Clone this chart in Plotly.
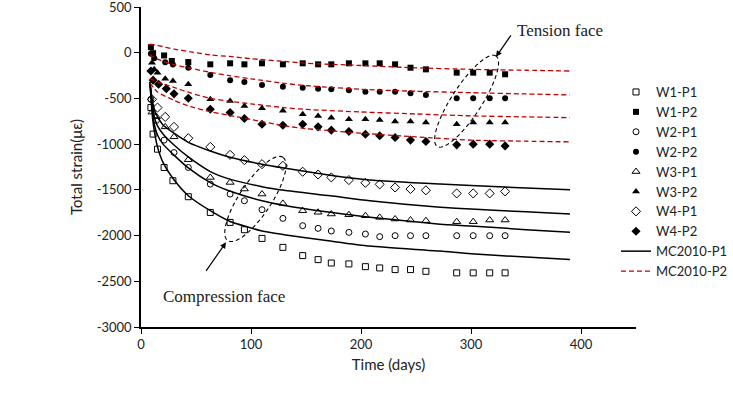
import numpy as np
import plotly.graph_objects as go

# ---------------- data ----------------
DAYS_LATE = [43, 63, 81, 94, 110, 129, 147, 161, 173, 189, 204, 217, 231, 245, 259, 287, 302, 317, 331]

w1p1_early_days = [9, 11, 15, 21, 29]
w1p1_early = [-600, -890, -1055, -1255, -1400]
w1p1_late = [-1575, -1747, -1856, -1936, -2031, -2129, -2219, -2263, -2300, -2310, -2340, -2354, -2372, -2372, -2391, -2408, -2408, -2408, -2408]

w1p2_early_days = [9, 11, 21, 28]
w1p2_early = [60, -5, -30, -90]
w1p2_late = [-102, -127, -116, -127, -116, -127, -116, -127, -127, -116, -116, -116, -127, -164, -182, -218, -218, -218, -236]

w2p1_early_days = [9, 14, 21, 30]
w2p1_early = [-510, -740, -956, -1092]
w2p1_late = [-1255, -1437, -1546, -1619, -1717, -1812, -1892, -1921, -1950, -1965, -1983, -2012, -2001, -2001, -2001, -2001, -2001, -2001, -2001]

w2p2_early_days = [9, 12, 22, 29]
w2p2_early = [-10, -60, -105, -130]
w2p2_late = [-164, -243, -302, -320, -353, -371, -382, -393, -400, -411, -426, -426, -426, -444, -462, -498, -498, -498, -498]

w3p1_early_days = [10, 14, 22, 30]
w3p1_early = [-650, -700, -811, -920]
w3p1_late = [-1170, -1364, -1419, -1491, -1546, -1648, -1728, -1745, -1764, -1772, -1783, -1801, -1819, -1830, -1837, -1848, -1848, -1830, -1830]

w3p2_early_days = [10, 12, 15, 22, 29]
w3p2_early = [-109, -180, -218, -285, -309]
w3p2_late = [-345, -510, -527, -582, -607, -636, -673, -691, -710, -727, -727, -735, -753, -753, -764, -782, -764, -764, -764]

w4p1_early_days = [10, 15, 22, 30]
w4p1_early = [-510, -600, -702, -811]
w4p1_late = [-935, -1030, -1117, -1175, -1219, -1237, -1302, -1332, -1364, -1393, -1423, -1440, -1474, -1491, -1505, -1539, -1539, -1539, -1517]

w4p2_early_days = [9, 11, 16, 23, 30]
w4p2_early = [-200, -300, -345, -393, -450]
w4p2_late = [-498, -618, -655, -720, -782, -793, -782, -811, -847, -862, -891, -909, -928, -956, -971, -1008, -1000, -1000, -1019]

# MC2010 model, compression face (P1)
MODEL_P1_DAYS = [8, 9, 10, 12, 15, 20, 30, 43, 63, 80, 110, 130, 172, 208, 272, 300, 350, 390]
mc_p1_w4 = [-320, -400, -500, -620, -700, -790, -880, -980, -1075, -1140, -1220, -1262, -1340, -1393, -1437, -1452, -1480, -1500]
mc_p1_w3 = [-320, -420, -550, -700, -800, -890, -1010, -1140, -1300, -1380, -1465, -1505, -1565, -1620, -1690, -1710, -1740, -1764]
mc_p1_w2 = [-320, -450, -600, -780, -900, -1000, -1120, -1260, -1420, -1510, -1620, -1670, -1745, -1800, -1875, -1895, -1935, -1965]
mc_p1_w1 = [-320, -480, -650, -850, -1030, -1200, -1390, -1564, -1728, -1840, -1950, -1990, -2060, -2115, -2170, -2200, -2235, -2263]

# MC2010 model, tension face (P2)
MODEL_P2_DAYS = [8, 15, 30, 45, 63, 80, 100, 130, 150, 200, 250, 300, 350, 390]
mc_p2_w1 = [95, 80, 40, 10, -25, -40, -65, -95, -115, -140, -165, -182, -192, -200]
mc_p2_w2 = [-20, -70, -130, -170, -215, -250, -285, -335, -360, -400, -422, -437, -451, -462]
mc_p2_w3 = [-280, -320, -380, -440, -500, -530, -560, -600, -620, -648, -670, -691, -702, -710]
mc_p2_w4 = [-330, -430, -520, -590, -645, -685, -730, -800, -830, -880, -920, -956, -968, -975]

X_TICKS = [0, 100, 200, 300, 400]
Y_TICKS = [500, 0, -500, -1000, -1500, -2000, -2500, -3000]
Y_TICK_TEXT = ["500", "0", "-500", "-1000", "-1500", "-2000", "-2500", "-3000"]

# ---------------- figure ----------------
W, H = 733, 410
ML, MR, MT, MB = 141, 97, 7, 83
XR = [0, 450]
YR = [-3000, 500]
plot_w = W - ML - MR
plot_h = H - MT - MB
px_x = plot_w / (XR[1] - XR[0])
px_y = plot_h / (YR[1] - YR[0])

FONT = "Lato"
fig = go.Figure()

series = [
    ("W1-P1", w1p1_early_days, w1p1_early, w1p1_late, "square-open", 6),
    ("W1-P2", w1p2_early_days, w1p2_early, w1p2_late, "square", 6),
    ("W2-P1", w2p1_early_days, w2p1_early, w2p1_late, "circle-open", 6),
    ("W2-P2", w2p2_early_days, w2p2_early, w2p2_late, "circle", 6),
    ("W3-P1", w3p1_early_days, w3p1_early, w3p1_late, "triangle-up-open", 7),
    ("W3-P2", w3p2_early_days, w3p2_early, w3p2_late, "triangle-up", 7),
    ("W4-P1", w4p1_early_days, w4p1_early, w4p1_late, "diamond-open", 7),
    ("W4-P2", w4p2_early_days, w4p2_early, w4p2_late, "diamond", 7),
]
for name, ed, ev, lv, sym, sz in series:
    fig.add_trace(go.Scatter(
        x=list(ed) + DAYS_LATE, y=list(ev) + list(lv), mode="markers", name=name,
        marker=dict(symbol=sym, size=sz, color="black",
                    line=dict(color="black", width=1 if "open" in sym else 0)),
    ))

for i, ys in enumerate([mc_p1_w1, mc_p1_w2, mc_p1_w3, mc_p1_w4]):
    fig.add_trace(go.Scatter(
        x=MODEL_P1_DAYS, y=ys, mode="lines", name="MC2010-P1",
        legendgroup="p1", showlegend=(i == 0),
        line=dict(color="black", width=1.5, shape="spline", smoothing=0.6),
    ))
for i, ys in enumerate([mc_p2_w1, mc_p2_w2, mc_p2_w3, mc_p2_w4]):
    fig.add_trace(go.Scatter(
        x=MODEL_P2_DAYS, y=ys, mode="lines", name="MC2010-P2",
        legendgroup="p2", showlegend=(i == 0),
        line=dict(color="#C00000", width=1.3, dash="5px,3px", shape="spline", smoothing=0.6),
    ))


def ellipse_path(cx, cy, a_px, b_px, ang_deg, n=60):
    t = np.linspace(0, 2 * np.pi, n)
    ang = np.deg2rad(ang_deg)
    dx = a_px * np.cos(t) * np.cos(ang) - b_px * np.sin(t) * np.sin(ang)
    dy = a_px * np.cos(t) * np.sin(ang) + b_px * np.sin(t) * np.cos(ang)
    xs = cx + dx / px_x
    ys = cy + dy / px_y
    return "M " + " L ".join(f"{x:.3f},{y:.3f}" for x, y in zip(xs, ys)) + " Z"


fig.add_shape(type="path", xref="x", yref="y",
              path=ellipse_path(296, -530, 54, 15, 57),
              line=dict(color="black", width=1.1, dash="4px,3px"))
fig.add_shape(type="path", xref="x", yref="y",
              path=ellipse_path(104, -1600, 50, 16, 56.5),
              line=dict(color="black", width=1.1, dash="4px,3px"))

fig.add_annotation(x=322.7, y=-45, xref="x", yref="y", ax=16, ay=-23, text="",
                   showarrow=True, arrowhead=2, arrowsize=1, arrowwidth=1.2, arrowcolor="black")
fig.add_annotation(x=77.3, y=-2074, xref="x", yref="y", ax=-21, ay=30, text="",
                   showarrow=True, arrowhead=2, arrowsize=1, arrowwidth=1.2, arrowcolor="black")
fig.add_annotation(x=340, y=238, xref="x", yref="y", text="Tension face", showarrow=False,
                   xanchor="left", yanchor="middle",
                   font=dict(family="Liberation Serif", size=17, color="#222"))
fig.add_annotation(x=17.9, y=-2662, xref="x", yref="y", text="Compression face", showarrow=False,
                   xanchor="left", yanchor="middle",
                   font=dict(family="Liberation Serif", size=17, color="#222"))

axis_common = dict(showgrid=False, zeroline=False, showline=True, linecolor="black", linewidth=1.5,
                   ticks="outside", ticklen=5, tickcolor="black", tickwidth=1.2,
                   ticklabeloverflow="allow",
                   tickfont=dict(family=FONT, size=13, color="#222"))
fig.update_xaxes(range=XR, tickvals=X_TICKS, **axis_common,
                 title=dict(text="Time (days)", font=dict(family=FONT, size=15, color="#222"), standoff=8))
fig.update_yaxes(range=YR, tickvals=Y_TICKS, ticktext=Y_TICK_TEXT, **axis_common,
                 title=dict(text="Total strain(με)", font=dict(family=FONT, size=15, color="#222"), standoff=10))

fig.update_layout(
    width=W, height=H, margin=dict(l=ML, r=MR, t=MT, b=MB, autoexpand=False),
    paper_bgcolor="white", plot_bgcolor="white",
    legend=dict(x=(616 - ML) / plot_w, xanchor="left", y=(H - MB - 77) / plot_h, yanchor="top",
                font=dict(family=FONT, size=13, color="#222"), bgcolor="rgba(0,0,0,0)",
                tracegroupgap=0),
    showlegend=True,
)

fig.write_html("out.html")
